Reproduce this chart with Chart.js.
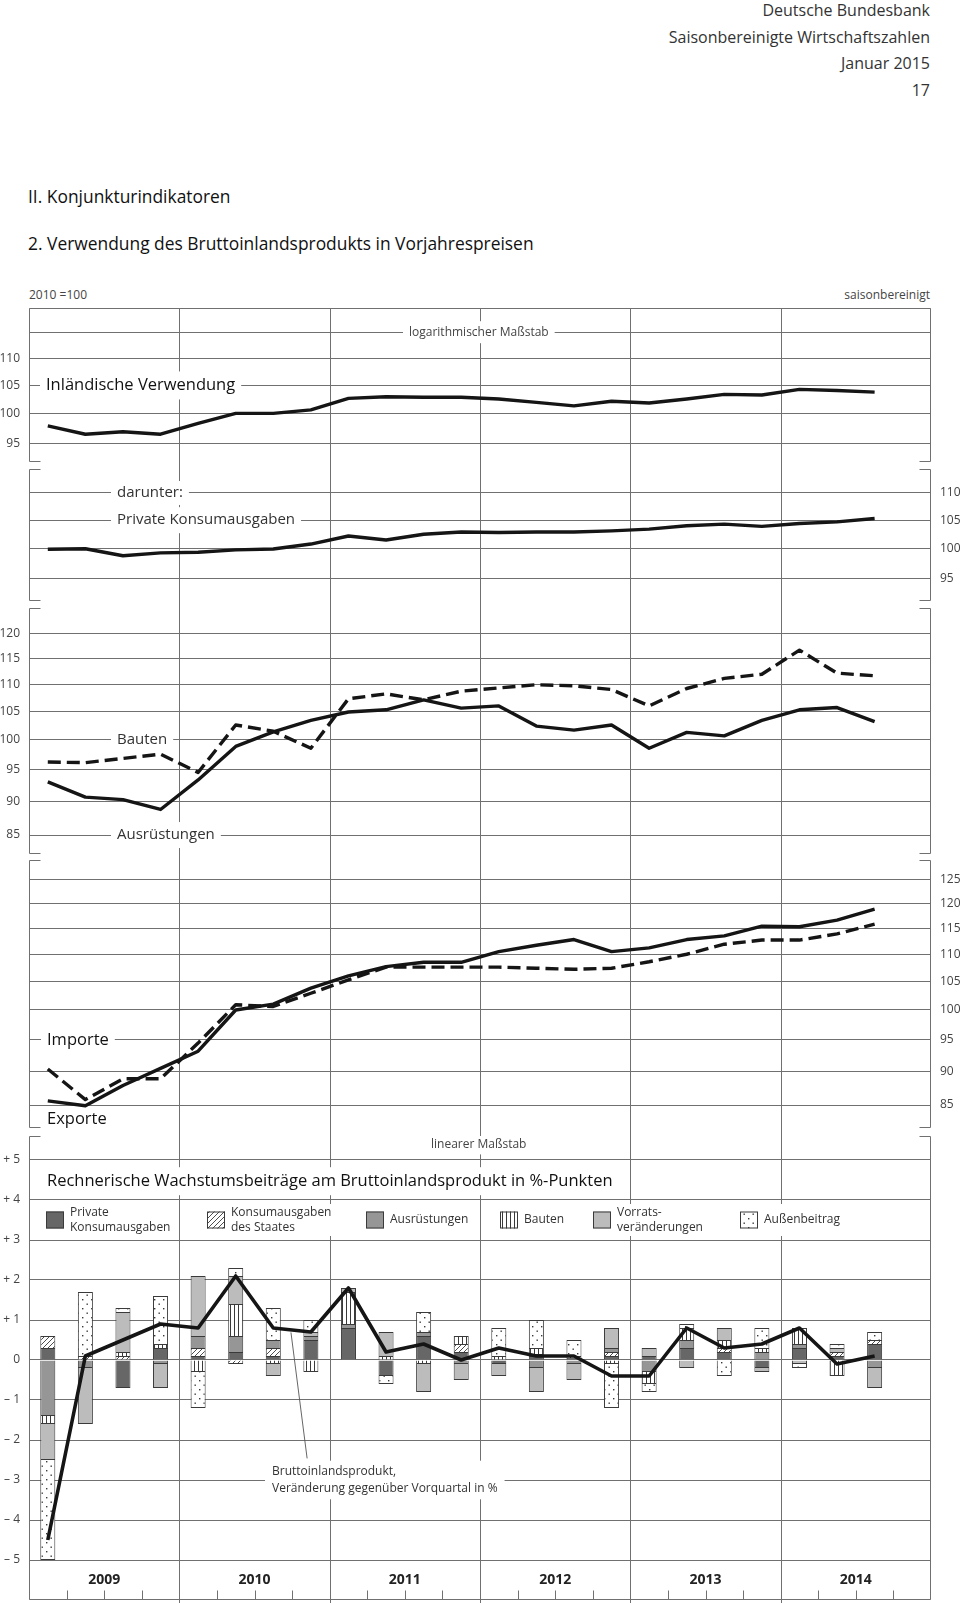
<!DOCTYPE html>
<html lang="de">
<head>
<meta charset="utf-8">
<title>Verwendung des Bruttoinlandsprodukts</title>
<script src="https://cdn.jsdelivr.net/npm/chart.js@4.4.1/dist/chart.umd.min.js"></script>
<style>
  html, body { margin: 0; background: #fff; }
  #page { position: relative; width: 960px; height: 1603px; overflow: hidden; font-family: 'Open Sans', sans-serif; }
  .txt { position: absolute; white-space: nowrap; }
  canvas { position: absolute; left: 0; }
</style>
</head>
<body>
<div id="page">
  <div class="txt" style="right:30px;top:-3px;font-size:16px;line-height:26.6px;color:#333;text-align:right">Deutsche Bundesbank<br>Saisonbereinigte Wirtschaftszahlen<br>Januar 2015<br>17</div>
  <div class="txt" style="left:28px;top:185px;font-size:17.4px;line-height:22px;color:#111">II. Konjunkturindikatoren</div>
  <div class="txt" style="left:28px;top:232px;font-size:17.4px;line-height:22px;color:#111">2. Verwendung des Bruttoinlandsprodukts in Vorjahrespreisen</div>
  <div class="txt" style="left:29px;top:287px;font-size:12px;line-height:16px;color:#444">2010 =100</div>
  <div class="txt" style="right:30px;top:287px;font-size:12px;line-height:16px;color:#444">saisonbereinigt</div>
  <canvas id="p1" width="960" height="169" style="top:300px"></canvas>
  <canvas id="p2" width="960" height="139" style="top:469px"></canvas>
  <canvas id="p3" width="960" height="252" style="top:608px"></canvas>
  <canvas id="p4" width="960" height="276" style="top:860px"></canvas>
  <canvas id="p5" width="960" height="467" style="top:1136px"></canvas>
</div>
<script>
// quarters 2009 Q1 .. 2014 Q4 (data up to 2014 Q3)
const years = ['2009', '2010', '2011', '2012', '2013', '2014'];
const quarters = years.flatMap(y => ['Q1', 'Q2', 'Q3', 'Q4'].map(q => y + ' ' + q));

// 2010 = 100, log scale
const inlaendischeVerwendung = [98.0, 96.6, 97.0, 96.6, 98.4, 100.1, 100.1, 100.7, 102.7, 103.0, 102.9, 102.9, 102.6, 102.0, 101.4, 102.2, 101.9, 102.6, 103.4, 103.3, 104.3, 104.1, 103.8];
const privateKonsumausgaben = [99.9, 100.0, 98.8, 99.3, 99.4, 99.8, 99.95, 100.8, 102.2, 101.5, 102.5, 102.9, 102.8, 102.9, 102.9, 103.1, 103.4, 104.0, 104.3, 103.9, 104.4, 104.7, 105.3];
const ausruestungen = [93.1, 90.7, 90.3, 88.8, 93.4, 98.9, 101.4, 103.4, 104.9, 105.3, 107.1, 105.6, 106.0, 102.4, 101.7, 102.6, 98.6, 101.3, 100.7, 103.4, 105.3, 105.7, 103.2];
const bauten = [96.3, 96.2, 96.9, 97.6, 94.6, 102.6, 101.5, 98.6, 107.3, 108.2, 107.1, 108.7, 109.3, 109.9, 109.7, 109.0, 106.0, 109.2, 111.1, 111.9, 116.6, 112.1, 111.6];
const exporte = [85.6, 84.9, 87.9, 90.5, 93.2, 100.0, 101.0, 103.8, 106.0, 107.7, 108.5, 108.5, 110.5, 111.7, 112.8, 110.5, 111.2, 112.8, 113.5, 115.4, 115.3, 116.6, 118.8];
const importe = [90.4, 85.8, 88.9, 88.9, 94.5, 100.9, 100.6, 102.9, 105.3, 107.6, 107.6, 107.6, 107.6, 107.4, 107.2, 107.4, 108.6, 110.0, 111.9, 112.7, 112.7, 113.9, 115.8];

// growth contributions in %-points, GDP change on previous quarter in %
const bipVeraenderung = [-4.5, 0.1, 0.5, 0.9, 0.8, 2.1, 0.8, 0.7, 1.8, 0.2, 0.4, 0.0, 0.3, 0.1, 0.1, -0.4, -0.4, 0.8, 0.3, 0.4, 0.8, -0.1, 0.1];
const beitragPrivat = [0.3, 0.0, -0.7, 0.3, 0.1, 0.2, 0.1, 0.5, 0.8, -0.4, 0.6, 0.2, -0.1, 0.1, 0.05, 0.1, 0.1, 0.3, 0.2, -0.2, 0.3, 0.1, 0.4];
const beitragStaat = [0.3, 0.1, 0.1, 0.0, 0.2, -0.1, 0.2, 0.0, 0.0, 0.0, 0.0, 0.2, 0.0, 0.05, 0.0, 0.1, 0.0, 0.0, 0.1, 0.0, 0.0, 0.1, 0.1];
const beitragAusruestungen = [-1.4, -0.2, 0.0, -0.1, 0.3, 0.4, 0.2, 0.1, 0.1, 0.0, 0.1, -0.1, 0.0, -0.2, -0.1, 0.1, -0.3, 0.2, 0.0, 0.2, 0.1, 0.0, -0.2];
const beitragBauten = [-0.2, 0.0, 0.1, 0.1, -0.3, 0.8, -0.1, -0.3, 0.8, 0.1, -0.1, 0.2, 0.1, 0.15, 0.05, -0.1, -0.3, 0.3, 0.2, 0.1, 0.4, -0.4, 0.0];
const beitragVorraete = [-0.9, -1.4, 1.0, -0.6, 1.5, 0.7, -0.3, 0.1, 0.1, 0.6, -0.7, -0.4, -0.3, -0.6, -0.4, 0.5, 0.2, -0.2, 0.3, -0.1, -0.1, 0.1, -0.5];
const beitragAussen = [-2.5, 1.6, 0.1, 1.2, -0.9, 0.2, 0.8, 0.3, 0.0, -0.2, 0.5, 0.0, 0.7, 0.7, 0.4, -1.1, -0.2, 0.1, -0.4, 0.5, -0.1, 0.1, 0.2];

const legendLabels = [['Private', 'Konsumausgaben'], ['Konsumausgaben', 'des Staates'], ['Ausrüstungen'], ['Bauten'], ['Vorrats-', 'veränderungen'], ['Außenbeitrag']];

// axis ticks
const ticksP1 = [95, 100, 105, 110, 115];
const labelsP1 = ['95', '100', '105', '110', ''];
const ticksP2 = [95, 100, 105, 110];
const labelsP2 = ['95', '100', '105', '110'];
const ticksP3 = [85, 90, 95, 100, 105, 110, 115, 120];
const labelsP3 = ['85', '90', '95', '100', '105', '110', '115', '120'];
const ticksP4 = [85, 90, 95, 100, 105, 110, 115, 120, 125];
const labelsP4 = ['85', '90', '95', '100', '105', '110', '115', '120', '125'];
const ticksP5 = [-5, -4, -3, -2, -1, 0, 1, 2, 3, 4, 5];
const labelsP5 = ['– 5', '– 4', '– 3', '– 2', '– 1', '0', '+ 1', '+ 2', '+ 3', '+ 4', '+ 5'];

const GRID = '#707070';
const INK = '#151515';
const EDGE = '#3a3a3a';
const FONT = "'Open Sans', sans-serif";
Chart.defaults.font.family = FONT;

function pattern(kind) {
  const size = kind === 'dots' ? 9 : (kind === 'hatch' ? 5 : 4);
  const c = document.createElement('canvas');
  c.width = size; c.height = size;
  const g = c.getContext('2d');
  g.fillStyle = '#fff';
  g.fillRect(0, 0, size, size);
  g.fillStyle = EDGE; g.strokeStyle = EDGE; g.lineWidth = 0.9;
  if (kind === 'hatch') {
    g.beginPath();
    g.moveTo(-1, size + 1); g.lineTo(size + 1, -1);
    g.moveTo(-1, 1); g.lineTo(1, -1);
    g.moveTo(size - 1, size + 1); g.lineTo(size + 1, size - 1);
    g.stroke();
  } else if (kind === 'stripes') {
    g.fillRect(2, 0, 1, size);
  } else {
    g.fillRect(1, 1, 1.4, 1.4);
    g.fillRect(5.5, 5.5, 1.4, 1.4);
  }
  return g.createPattern(c, 'repeat');
}

function axis(type, min, max, ticks, labels, position) {
  return {
    type, min, max, position, bounds: 'data',
    stacked: type === 'linear',
    border: { display: false },
    grid: { color: GRID, lineWidth: 1, drawTicks: false },
    ticks: { padding: 9, color: '#444', font: { size: 12 }, autoSkip: false, callback: (v, i) => labels[i] },
    afterBuildTicks: s => { s.ticks = ticks.map(v => ({ value: v })); },
    afterFit: s => { s.width = 29; s.paddingTop = 0; s.paddingBottom = 0; }
  };
}

function lineSet(label, values, dashed) {
  return {
    type: 'line', label, data: values, borderColor: INK, borderWidth: 3.4,
    borderDash: dashed ? [13, 6] : [], pointRadius: 0, tension: 0,
    borderJoinStyle: 'round', fill: false
  };
}

function drawLabel(ctx, chart, lb) {
  const a = chart.chartArea;
  const cy = chart.scales.y.getPixelForValue(lb.y);
  ctx.font = lb.font + ' ' + FONT;
  const lh = lb.lh || 18;
  const w = Math.max(...lb.lines.map(t => ctx.measureText(t).width));
  const h = lb.lines.length * lh;
  const x = a.left + lb.dx;
  const px = lb.padX === undefined ? 6 : lb.padX;
  const py = lb.padY === undefined ? 4 : lb.padY;
  ctx.fillStyle = '#fff';
  ctx.fillRect(x - px, cy - h / 2 - py, w + 2 * px, h + 2 * py);
  ctx.fillStyle = lb.color;
  ctx.textAlign = 'left';
  ctx.textBaseline = 'middle';
  lb.lines.forEach((t, i) => ctx.fillText(t, x, cy - h / 2 + lh * (i + 0.5)));
}

const framePlugin = {
  id: 'frame',
  beforeDatasetsDraw(chart, args, o) {
    const ctx = chart.ctx, a = chart.chartArea;
    const xs = chart.scales.x, ys = chart.scales.y;
    const L = Math.round(a.left) + 0.5, R = Math.round(a.right) - 0.5;
    const T = Math.round(a.top) + 0.5, B = Math.round(a.bottom) - 0.5;
    const tk = 11;
    ctx.save();
    ctx.strokeStyle = GRID;
    ctx.lineWidth = 1;
    ctx.beginPath();
    // year separators run through the gaps between the panels
    const yStart = o.closedTop ? T : 0;
    for (let k = 1; k < years.length; k++) {
      const x = Math.round(xs.getPixelForValue(k * 4 - 0.5)) + 0.5;
      ctx.moveTo(x, yStart); ctx.lineTo(x, chart.height);
    }
    ctx.moveTo(L + tk, T); ctx.lineTo(L, T); ctx.lineTo(L, B); ctx.lineTo(L + tk, B);
    ctx.moveTo(R - tk, T); ctx.lineTo(R, T); ctx.lineTo(R, B); ctx.lineTo(R - tk, B);
    if (o.closedTop) { ctx.moveTo(L, T); ctx.lineTo(R, T); }
    if (o.closedBottom) { ctx.moveTo(L, B); ctx.lineTo(R, B); }
    if (o.quarterTicks) {
      for (let q = 1; q < quarters.length; q++) {
        if (q % 4 === 0) continue;
        const x = Math.round(xs.getPixelForValue(q - 0.5)) + 0.5;
        ctx.moveTo(x, B - 9); ctx.lineTo(x, B);
      }
    }
    ctx.stroke();

    if (o.leader) {
      ctx.beginPath();
      ctx.strokeStyle = '#555';
      ctx.lineWidth = 0.9;
      ctx.moveTo(xs.getPixelForValue(o.leader[0]), ys.getPixelForValue(o.leader[1]));
      ctx.lineTo(xs.getPixelForValue(o.leader[2]), ys.getPixelForValue(o.leader[3]));
      ctx.stroke();
    }

    (o.labels || []).forEach(lb => drawLabel(ctx, chart, lb));

    if (o.yearLabels) {
      ctx.font = 'bold 14px ' + FONT;
      ctx.fillStyle = '#222';
      ctx.textAlign = 'center';
      ctx.textBaseline = 'middle';
      years.forEach((y, k) => ctx.fillText(y, xs.getPixelForValue(k * 4 + 1.5), ys.getPixelForValue(o.yearLabels)));
    }

    if (o.legend) {
      const cy = ys.getPixelForValue(o.legend.y);
      ctx.font = '12px ' + FONT;
      ctx.textAlign = 'left';
      ctx.textBaseline = 'middle';
      o.legend.offsets.forEach((dx, i) => {
        const ds = chart.data.datasets[o.legend.first + i];
        const lines = legendLabels[i];
        const x0 = a.left + dx;
        const w = Math.max(...lines.map(t => ctx.measureText(t).width));
        ctx.fillStyle = '#fff';
        ctx.fillRect(x0 - 5, cy - 16, 24 + w + 10, 32);
        ctx.fillStyle = ds.backgroundColor;
        ctx.fillRect(x0, cy - 8.5, 18, 17);
        ctx.strokeStyle = EDGE;
        ctx.lineWidth = 1;
        ctx.strokeRect(x0 + 0.5, cy - 8, 17, 16);
        ctx.fillStyle = '#333';
        lines.forEach((t, j) => ctx.fillText(t, x0 + 24, cy + (j - (lines.length - 1) / 2) * 15.7));
      });
    }
    ctx.restore();
  }
};

function panel(id, type, datasets, y, padding, frame) {
  return new Chart(document.getElementById(id), {
    type,
    data: { labels: quarters, datasets },
    options: {
      responsive: false, animation: false, events: [], devicePixelRatio: 1,
      layout: { padding },
      plugins: { legend: { display: false }, tooltip: { enabled: false }, frame },
      scales: {
        x: { type: 'category', offset: true, display: false, stacked: true },
        y
      }
    },
    plugins: [framePlugin]
  });
}

const bigLabel = '16.5px', midLabel = '15px', smallLabel = '12px';

panel('p1', 'line',
  [lineSet('Inländische Verwendung', inlaendischeVerwendung, false)],
  axis('logarithmic', 92.12, 119.86, ticksP1, labelsP1, 'left'),
  { top: 8, bottom: 7, left: 0, right: 29 },
  { closedTop: true, labels: [
    { lines: ['logarithmischer Maßstab'], dx: 380, y: 115, font: smallLabel, color: '#444', lh: 16, padY: 3 },
    { lines: ['Inländische Verwendung'], dx: 17, y: 105, font: bigLabel, color: '#111', lh: 20 }
  ] });

panel('p2', 'line',
  [lineSet('Private Konsumausgaben', privateKonsumausgaben, false)],
  axis('logarithmic', 91.45, 114.60, ticksP2, labelsP2, 'right'),
  { top: 0, bottom: 7, left: 29, right: 0 },
  { labels: [
    { lines: ['darunter:'], dx: 88, y: 110, font: midLabel, color: '#333', padY: 3 },
    { lines: ['Private Konsumausgaben'], dx: 88, y: 105, font: midLabel, color: '#333', padY: 4 }
  ] });

panel('p3', 'line',
  [lineSet('Bauten', bauten, true), lineSet('Ausrüstungen', ausruestungen, false)],
  axis('logarithmic', 82.29, 125.31, ticksP3, labelsP3, 'left'),
  { top: 0, bottom: 6, left: 0, right: 29 },
  { labels: [
    { lines: ['Bauten'], dx: 88, y: 100, font: midLabel, color: '#333' },
    { lines: ['Ausrüstungen'], dx: 88, y: 85, font: midLabel, color: '#333' }
  ] });

panel('p4', 'line',
  [lineSet('Importe', importe, true), lineSet('Exporte', exporte, false)],
  axis('logarithmic', 81.73, 129.23, ticksP4, labelsP4, 'right'),
  { top: 0, bottom: 8, left: 29, right: 0 },
  { labels: [
    { lines: ['Importe'], dx: 18, y: 95, font: bigLabel, color: '#111', lh: 20 },
    { lines: ['Exporte'], dx: 18, y: 82.9, font: bigLabel, color: '#111', lh: 20, padY: 1 }
  ] });

function barSet(label, values, fill) {
  return { type: 'bar', label, data: values, backgroundColor: fill, borderColor: EDGE, borderWidth: 1,
           barPercentage: 0.4, categoryPercentage: 1, order: 1 };
}

panel('p5', 'bar',
  [
    { type: 'line', label: 'Bruttoinlandsprodukt', data: bipVeraenderung, borderColor: INK, borderWidth: 3.6,
      pointRadius: 0, tension: 0, borderJoinStyle: 'round', fill: false, stack: 'bip', order: 0 },
    barSet('Private Konsumausgaben', beitragPrivat, '#676767'),
    barSet('Konsumausgaben des Staates', beitragStaat, pattern('hatch')),
    barSet('Ausrüstungen', beitragAusruestungen, '#969696'),
    barSet('Bauten', beitragBauten, pattern('stripes')),
    barSet('Vorratsveränderungen', beitragVorraete, '#bcbcbc'),
    barSet('Außenbeitrag', beitragAussen, pattern('dots'))
  ],
  axis('linear', -6.0, 5.6, ticksP5, labelsP5, 'left'),
  { top: 0, bottom: 3, left: 0, right: 29 },
  {
    closedBottom: true, quarterTicks: true, yearLabels: -5.5,
    leader: [6.47, 0.69, 6.9, -2.46],
    labels: [
      { lines: ['linearer Maßstab'], dx: 402, y: 5.39, font: smallLabel, color: '#444', lh: 16, padY: 2 },
      { lines: ['Rechnerische Wachstumsbeiträge am Bruttoinlandsprodukt in %-Punkten'], dx: 18, y: 4.47, font: bigLabel, color: '#111', lh: 20 },
      { lines: ['Bruttoinlandsprodukt,', 'Veränderung gegenüber Vorquartal in %'], dx: 243, y: -3.0, font: smallLabel, color: '#333', lh: 16.3, padX: 7, padY: 3 }
    ],
    legend: { y: 3.5, first: 1, offsets: [17, 178, 337, 471, 564, 711] }
  });
</script>
</body>
</html>
